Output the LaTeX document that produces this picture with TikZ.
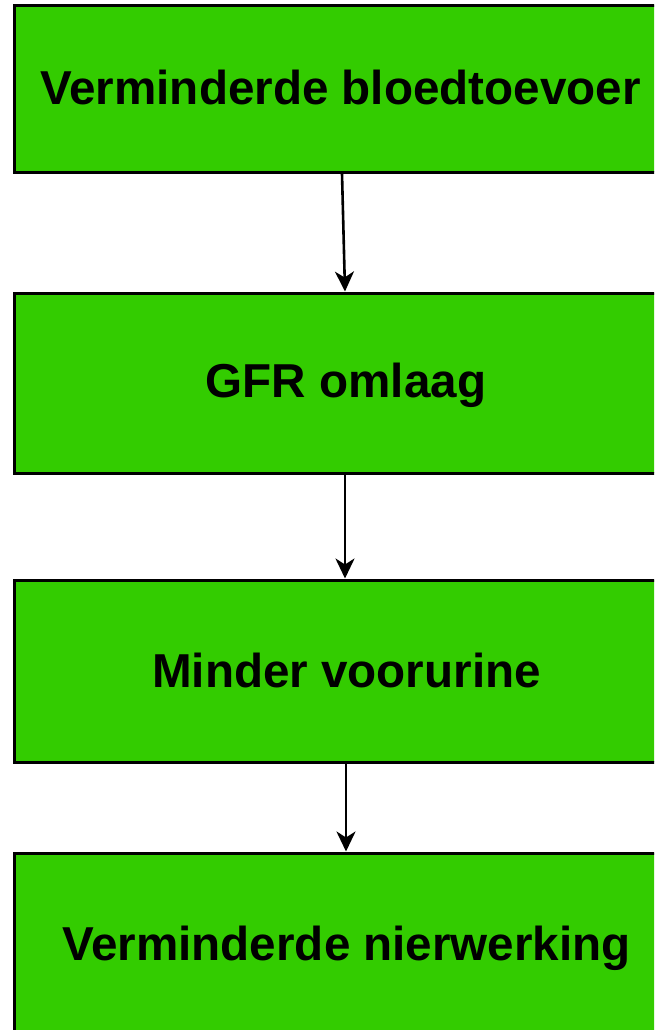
\documentclass[tikz,border=0pt]{standalone}
\usepackage{fontspec}
\setmainfont{Liberation Sans}
\usetikzlibrary{arrows.meta}
\definecolor{boxgreen}{RGB}{51,204,0}
\tikzset{
  stepbox/.style={draw=black, line width=3pt, fill=boxgreen, rectangle,
    inner sep=0pt, minimum width=665pt},
  label/.style={anchor=base, inner sep=0pt,
    font=\fontsize{47.6}{56}\selectfont\bfseries},
  arr/.style={line width=2.6pt, -{Stealth[length=20pt, width=19pt, inset=6pt]}}
}
\begin{document}
\begin{tikzpicture}[x=1pt, y=-1pt]
  \useasboundingbox (0,0) rectangle (654,1030);
  \clip (0,0) rectangle (654,1030);
  % process boxes (they run past the right and bottom edges)
  \node[stepbox, minimum height=166.5pt] (b1) at (346.5, 88.75) {};
  \node[stepbox, minimum height=180pt]   (b2) at (346.5, 383) {};
  \node[stepbox, minimum height=182pt]   (b3) at (346.5, 671) {};
  \node[stepbox, minimum height=182pt]   (b4) at (346.5, 944) {};
  % box texts
  \node[label] (t1) at (340.5, 105) {Verminderde bloedtoevoer};
  \node[label] (t2) at (346, 397) {GFR omlaag};
  \node[label] (t3) at (346.5, 687.5) {Minder voorurine};
  \node[label] (t4) at (346.5, 960) {Verminderde nierwerking};
  % connectors
  \draw[arr] ([xshift=-4.5pt]b1.south) -- ([xshift=-1.5pt]b2.north);
  \draw[arr] ([xshift=-1.5pt]b2.south) -- ([xshift=-1.5pt]b3.north);
  \draw[arr] ([xshift=-0.5pt]b3.south) -- ([xshift=-0.5pt]b4.north);
\end{tikzpicture}
\end{document}
